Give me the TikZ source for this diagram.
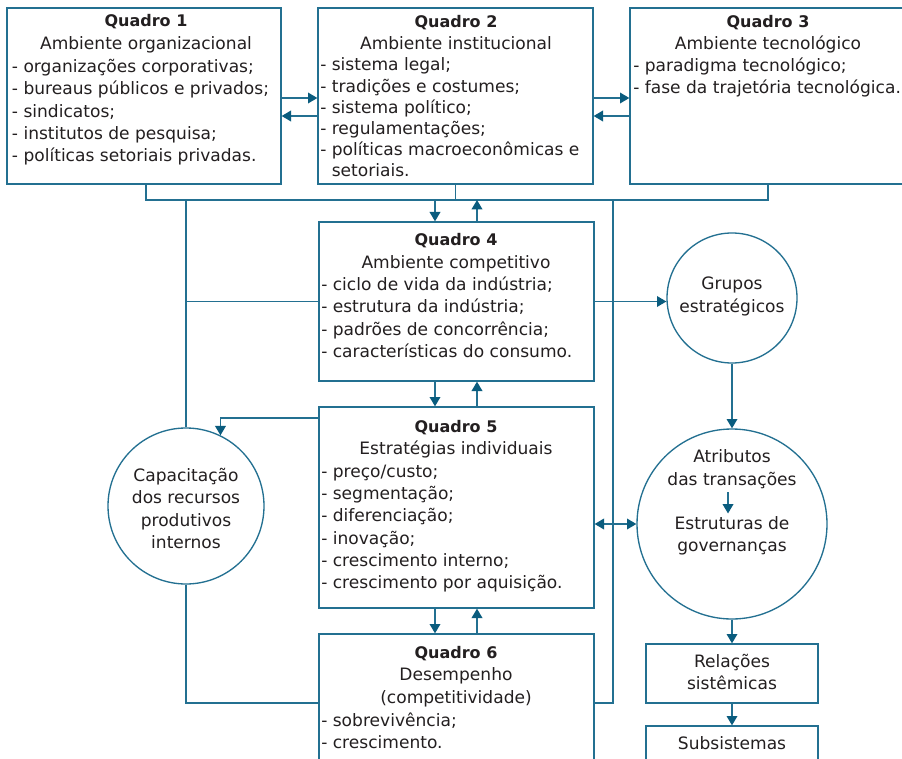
\documentclass[tikz,border=0pt]{standalone}
\usepackage{fontspec}
\setmainfont{DejaVu Sans}
\usetikzlibrary{arrows.meta,fit}
\definecolor{lc}{RGB}{35,112,145}
\definecolor{ac}{RGB}{10,92,126}
\definecolor{tc}{RGB}{35,31,32}
\newcommand\qhead[1]{{\fontsize{12}{16.9}\selectfont\textbf{#1}}}
\begin{document}
\begin{tikzpicture}[x=0.75pt,y=-0.75pt,
  box/.style={draw=lc, line width=1pt, inner sep=0pt, rectangle},
  circ/.style={draw=lc, line width=1pt, circle, inner sep=0pt},
  ln/.style={draw=lc, line width=1pt},
  arr/.style={ln, -{Triangle[width=8pt,length=7pt,color=ac]}},
  darr/.style={ln, {Triangle[width=8pt,length=7pt,color=ac]}-{Triangle[width=8pt,length=7pt,color=ac]}},
  ttl/.style={text=tc, inner sep=0pt, anchor=base, font=\fontsize{12.8}{16.9}\selectfont},
  lst/.style={text=tc, inner sep=0pt, anchor=base west, font=\fontsize{12.8}{16.7}\selectfont},
  ctx/.style={text=tc, inner sep=0pt, font=\fontsize{12.8}{16.7}\selectfont},
]
\useasboundingbox (0,0) rectangle (902,759);
\fill[white] (0,0) rectangle (902,759);

% boxes
\node[box, fit={(7,8) (281,184)}] (q1) {};
\node[box, fit={(318,8) (593,184)}] (q2) {};
\node[box, fit={(630,8) (906,184)}] (q3) {};
\node[box, fit={(319,222) (594,381)}] (q4) {};
\node[box, fit={(319,407) (594,608)}] (q5) {};
\node[box, fit={(319,634) (594,790)}] (q6) {};
\node[box, fit={(646,644) (818,703)}] (rel) {};
\node[box, fit={(646,726) (818,790)}] (subs) {};

% circles
\node[circ, minimum size=117pt] (cap) at (186,506) {};
\node[circ, minimum size=97.5pt] (grp) at (732,298) {};
\node[circ, minimum size=142.5pt] (atr) at (732,524) {};

% texts
\node[ttl] (q1t) at (146,26.7) {\begin{tabular}[t]{@{}c@{}}\qhead{Quadro 1}\\Ambiente organizacional\end{tabular}};
\node[lst] (q1l) at (11.7,72.5) {\begin{tabular}[t]{@{}l@{}}- organizações corporativas;\\- bureaus públicos e privados;\\- sindicatos;\\- institutos de pesquisa;\\- políticas setoriais privadas.\end{tabular}};

\node[ttl] (q2t) at (456,27.3) {\begin{tabular}[t]{@{}c@{}}\qhead{Quadro 2}\\Ambiente institucional\end{tabular}};
\node[lst, font=\fontsize{12.8}{15.8}\selectfont] (q2l) at (320,71) {\begin{tabular}[t]{@{}l@{}}- sistema legal;\\- tradições e costumes;\\- sistema político;\\- regulamentações;\\- políticas macroeconômicas e\\\hphantom{- }setoriais.\end{tabular}};

\node[ttl] (q3t) at (768,27.3) {\begin{tabular}[t]{@{}c@{}}\qhead{Quadro 3}\\Ambiente tecnológico\end{tabular}};
\node[lst] (q3l) at (633,71.7) {\begin{tabular}[t]{@{}l@{}}- paradigma tecnológico;\\- fase da trajetória tecnológica.\end{tabular}};

\node[ttl] (q4t) at (456,246) {\begin{tabular}[t]{@{}c@{}}\qhead{Quadro 4}\\Ambiente competitivo\end{tabular}};
\node[lst] (q4l) at (321,290.7) {\begin{tabular}[t]{@{}l@{}}- ciclo de vida da indústria;\\- estrutura da indústria;\\- padrões de concorrência;\\- características do consumo.\end{tabular}};

\node[ttl] (q5t) at (456,432.3) {\begin{tabular}[t]{@{}c@{}}\qhead{Quadro 5}\\Estratégias individuais\end{tabular}};
\node[lst] (q5l) at (321,477.3) {\begin{tabular}[t]{@{}l@{}}- preço/custo;\\- segmentação;\\- diferenciação;\\- inovação;\\- crescimento interno;\\- crescimento por aquisição.\end{tabular}};

\node[ttl] (q6t) at (456,658.3) {\begin{tabular}[t]{@{}c@{}}\qhead{Quadro 6}\\Desempenho\\(competitividade)\end{tabular}};
\node[lst] (q6l) at (321,726) {\begin{tabular}[t]{@{}l@{}}- sobrevivência;\\- crescimento.\end{tabular}};

\node[ctx] (capt) at (186,510.5) {\begin{tabular}{@{}c@{}}Capacitação\\dos recursos\\produtivos\\internos\end{tabular}};
\node[ctx] (grpt) at (732,296.5) {\begin{tabular}{@{}c@{}}Grupos\\estratégicos\end{tabular}};
\node[ctx] (atr1) at (732,469.5) {\begin{tabular}{@{}c@{}}Atributos\\das transações\end{tabular}};
\node[ctx] (atr2) at (732,536) {\begin{tabular}{@{}c@{}}Estruturas de\\governanças\end{tabular}};
\node[ctx] (relt) at (732,674) {\begin{tabular}{@{}c@{}}Relações\\sistêmicas\end{tabular}};
\node[ctx] (subt) at (732,743.5) {Subsistemas};

% helper coordinates
\coordinate (y98) at (0,98);
\coordinate (y116) at (0,116);
\coordinate (b200) at (0,200);
\coordinate (y418) at (0,418);
\coordinate (y703) at (0,703);
\coordinate (x146) at (146,0);
\coordinate (x768) at (768,0);
\coordinate (x435) at (435,0);
\coordinate (x477) at (477,0);
\coordinate (x186) at (186,0);
\coordinate (x613) at (613,0);

% connectors
\draw[arr] (q1.east |- y98) -- (q2.west |- y98);
\draw[arr] (q2.west |- y116) -- (q1.east |- y116);
\draw[arr] (q2.east |- y98) -- (q3.west |- y98);
\draw[arr] (q3.west |- y116) -- (q2.east |- y116);
\draw[ln] (q1.south -| x146) |- (b200 -| x768) -- (q3.south -| x768);
\draw[ln] (q2.south) -- (q2.south |- b200);
\draw[arr] (x435 |- b200) -- (q4.north -| x435);
\draw[arr] (q4.north -| x477) -- (x477 |- b200);
\draw[ln] (x186 |- b200) -- (cap.north);
\draw[ln] (x186 |- q4.west) -- (q4.west);
\draw[ln] (x613 |- b200) |- (q6.east |- y703);
\draw[ln] (cap.south) |- (q6.west |- y703);
\draw[arr] (q4.east) -- (q4.east -| grp.west);
\draw[arr] (grp.south) -- (atr.north);
\draw[arr] (q4.south -| x435) -- (q5.north -| x435);
\draw[arr] (q5.north -| x477) -- (q4.south -| x477);
\draw[arr] (q5.south -| x435) -- (q6.north -| x435);
\draw[arr] (q6.north -| x477) -- (q5.south -| x477);
\draw[arr] (q5.west |- y418) -| (cap.64);
\draw[darr] (q5.east |- atr.west) -- (atr.west);
\draw[arr] (atr.south) -- (rel.north);
\draw[arr] (rel.south) -- (subs.north);
\draw[arr] ([xshift=-3pt]atr1.south) -- ([xshift=-3pt]atr2.north);
\end{tikzpicture}
\end{document}
